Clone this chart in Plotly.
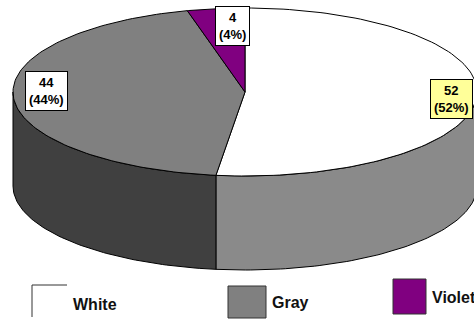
import numpy as np
import plotly.graph_objects as go

# ---- data ----
names = ["White", "Gray", "Violet"]
values = [52, 44, 4]
top_colors = ["#ffffff", "#808080", "#800080"]
side_colors = ["#8a8a8a", "#404040", "#400040"]
label_bg = ["#ffff99", "#ffffff", "#ffffff"]

# ---- geometry / style (pixel space) ----
W, H = 474, 329
cx, cy, a, b, depth = 245, 92, 232, 84, 94
label_r = 0.87
label_shift = [(5, 2), (3, -6), (13, 6)]
legend_x = [32, 228, 393]
legend_y = [285, 286, 279]
legend_sz = [(35, 32), (38, 32), (33, 35)]
legend_text_y = [304, 302, 297]
font_family = "Liberation Sans, Arial, sans-serif"

total = float(sum(values))
bounds = np.concatenate([[0], np.cumsum(values) / total * 360.0])


def ex(t):
    return cx + a * np.sin(np.radians(t))


def ey(t):
    return cy - b * np.cos(np.radians(t))


fig = go.Figure()

# side walls (front half only: 90..270 deg clockwise from top)
for i in range(len(values)):
    lo, hi = max(bounds[i], 90.0), min(bounds[i + 1], 270.0)
    if lo >= hi:
        continue
    t = np.linspace(lo, hi, 80)
    xs = np.concatenate([ex(t), ex(t[::-1])])
    ys = np.concatenate([ey(t), ey(t[::-1]) + depth])
    fig.add_trace(go.Scatter(x=np.append(xs, xs[0]), y=np.append(ys, ys[0]),
                             mode="lines", fill="toself", fillcolor=side_colors[i],
                             line=dict(color="#000000", width=1),
                             hoverinfo="skip", showlegend=False))

# top faces
for i in range(len(values)):
    t = np.linspace(bounds[i], bounds[i + 1], 120)
    xs = np.concatenate([[cx], ex(t), [cx]])
    ys = np.concatenate([[cy], ey(t), [cy]])
    fig.add_trace(go.Scatter(x=xs, y=ys, mode="lines", fill="toself",
                             fillcolor=top_colors[i],
                             line=dict(color="#000000", width=1),
                             hoverinfo="skip", showlegend=False, name=names[i]))

# data labels
for i in range(len(values)):
    mid = (bounds[i] + bounds[i + 1]) / 2
    lx = cx + label_r * a * np.sin(np.radians(mid)) + label_shift[i][0]
    ly = cy - label_r * b * np.cos(np.radians(mid)) + label_shift[i][1]
    pct = round(values[i] / total * 100)
    fig.add_annotation(x=lx, y=ly, xref="x", yref="y", showarrow=False,
                       text=f"<b>{values[i]}<br>({pct}%)</b>",
                       font=dict(family=font_family, size=13, color="#000000"),
                       bgcolor=label_bg[i], bordercolor="#000000", borderwidth=1,
                       borderpad=3)

# legend (drawn)
for i in range(len(values)):
    x0, y0 = legend_x[i], legend_y[i]
    w, h = legend_sz[i]
    if top_colors[i].lower() == "#ffffff":
        fig.add_shape(type="path", xref="x", yref="y",
                      path=f"M {x0+w} {y0} L {x0} {y0} L {x0} {y0+h}",
                      line=dict(color="#333333", width=1))
    else:
        fig.add_shape(type="rect", xref="x", yref="y", x0=x0, y0=y0, x1=x0 + w, y1=y0 + h,
                      fillcolor=top_colors[i], line=dict(color="#333333", width=1))
    fig.add_annotation(x=x0 + w + 4, y=legend_text_y[i], xref="x", yref="y",
                       xanchor="left", yanchor="middle", showarrow=False,
                       text=f"<b>{names[i]}</b>",
                       font=dict(family=font_family, size=16, color="#111111"))

fig.update_layout(
    width=W, height=H, margin=dict(l=0, r=0, t=0, b=0),
    paper_bgcolor="#ffffff", plot_bgcolor="#ffffff",
    xaxis=dict(range=[0, W], visible=False, fixedrange=True),
    yaxis=dict(range=[H, 0], visible=False, fixedrange=True),
    showlegend=False,
)

fig.write_html("out.html")
